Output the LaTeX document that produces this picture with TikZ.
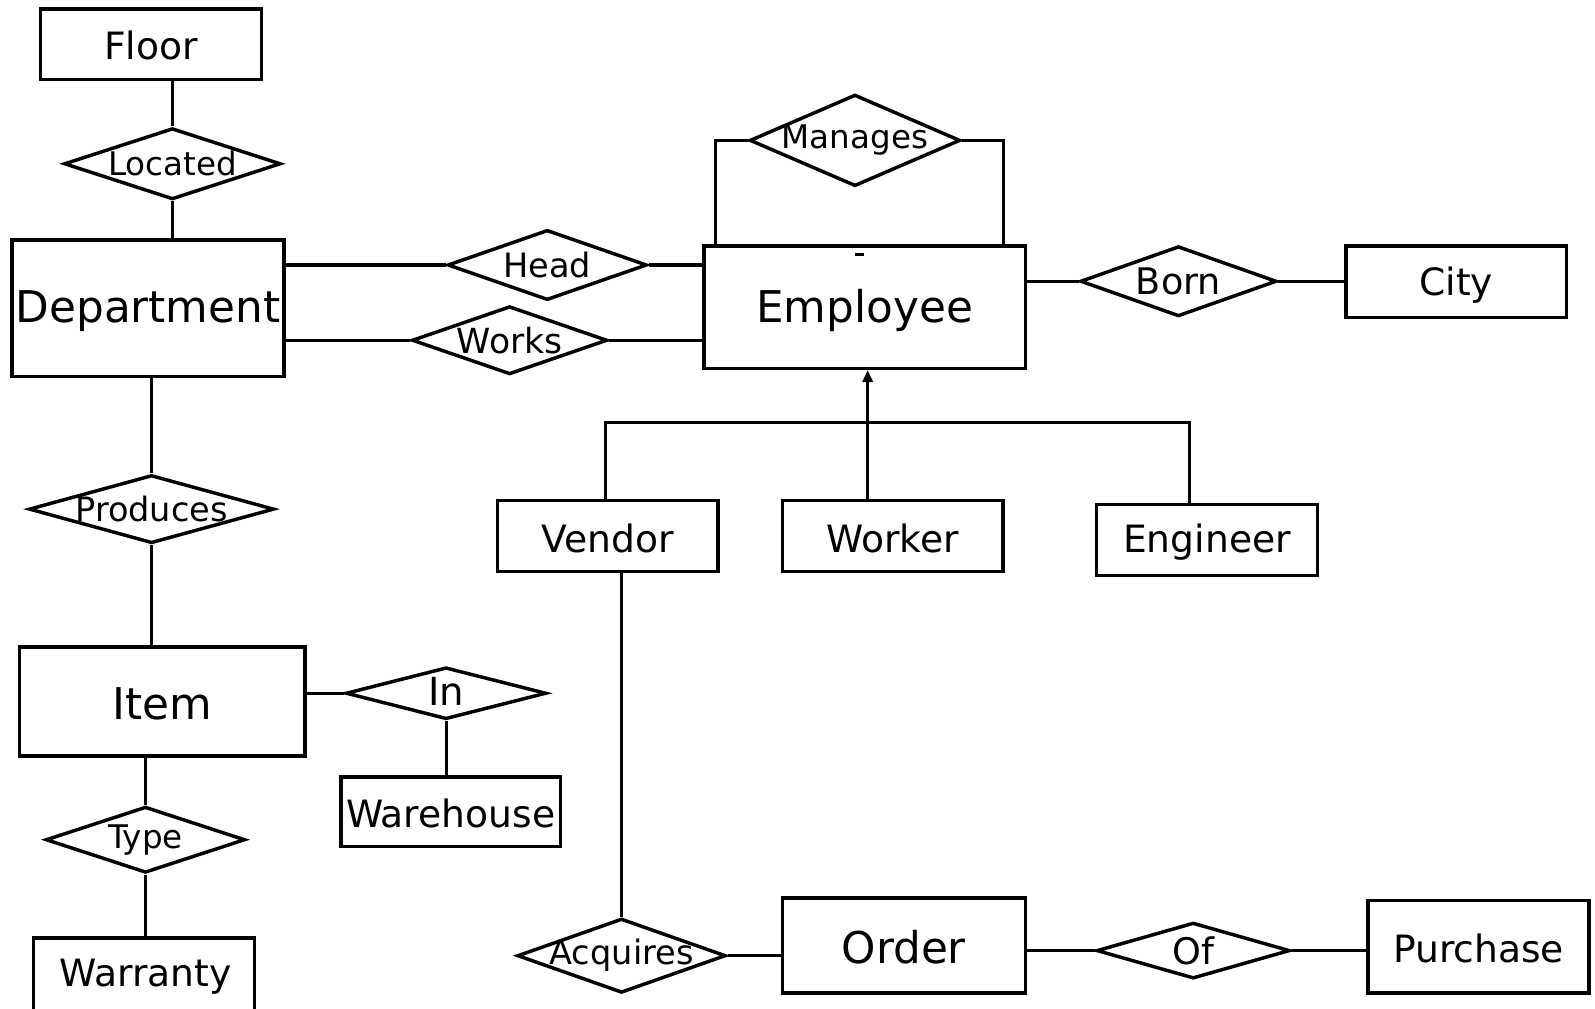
\documentclass[tikz,border=0pt]{standalone}
\usepackage{fontspec}
\setmainfont{DejaVu Sans}
\usetikzlibrary{shapes.geometric,arrows.meta}
\begin{document}
\begin{tikzpicture}[x=1pt,y=-1pt,
  entity/.style={draw,line width=3.4pt,rectangle,inner sep=0pt},
  rel/.style={draw,line width=3.4pt,diamond,inner sep=0pt},
  link/.style={line width=3pt},
  bigtxt/.style={font=\fontsize{43}{50}\selectfont},
  midtxt/.style={font=\fontsize{37}{44}\selectfont},
  reltxt/.style={font=\fontsize{#1}{#1}\selectfont,inner sep=0pt},
]
\fill[white] (0,0) rectangle (1568,991);
\useasboundingbox (0,0) rectangle (1568,991);

% ---------- entities ----------
\node[entity,minimum width=217pt,minimum height=69pt] (floor) at (148.5,43.5) {};
\node[entity,minimum width=267pt,minimum height=134pt] (dept) at (145.5,303) {};
\node[entity,minimum width=316pt,minimum height=120pt] (emp) at (850,302) {};
\node[entity,minimum width=217pt,minimum height=70pt] (city) at (1431.5,277) {};
\node[entity,minimum width=217pt,minimum height=70pt] (vendor) at (597.5,527) {};
\node[entity,minimum width=217pt,minimum height=70pt] (worker) at (877.5,527) {};
\node[entity,minimum width=217pt,minimum height=70pt] (engineer) at (1186.5,531) {};
\node[entity,minimum width=281pt,minimum height=107pt] (item) at (159.5,689.5) {};
\node[entity,minimum width=216pt,minimum height=68pt] (wh) at (443,798) {};
\node[entity,minimum width=217pt,minimum height=80pt] (warranty) at (141.5,962) {};
\node[entity,minimum width=239pt,minimum height=93pt] (order) at (888.5,929.5) {};
\node[entity,minimum width=217pt,minimum height=91pt] (purchase) at (1453.5,930.5) {};

% entity names
\node[midtxt] (floort) at (148.5,45) {Floor};
\node[bigtxt] (deptt) at (145.5,306) {Department};
\node[bigtxt] (empt) at (850,305) {Employee};
\node[midtxt] (cityt) at (1431.5,280) {City};
\node[midtxt] (vendort) at (597.5,529) {Vendor};
\node[midtxt] (workert) at (877.5,529) {Worker};
\node[midtxt] (engineert) at (1186.5,533) {Engineer};
\node[bigtxt] (itemt) at (159.5,692) {Item};
\node[midtxt] (wht) at (443,800) {Warehouse};
\node[midtxt] (warrantyt) at (143,960) {Warranty};
\node[bigtxt] (ordert) at (888.5,931) {Order};
\node[midtxt] (purchaset) at (1453.5,932) {Purchase};

% ---------- relationships ----------
\node[rel,minimum width=213pt,minimum height=70pt] (located) at (169.5,161) {};
\node[reltxt=32] (locatedt) at (located) {Located};
\node[rel,minimum width=196pt,minimum height=69pt] (head) at (538,260.5) {};
\node[reltxt=33] (headt) at (head) {Head};
\node[rel,minimum width=192pt,minimum height=67pt] (works) at (501,334.5) {};
\node[reltxt=34] (workst) at (works) {Works};
\node[rel,minimum width=207pt,minimum height=90pt] (manages) at (840.5,138) {};
\node[reltxt=32] (managest) at (manages) {Manages};
\node[rel,minimum width=193pt,minimum height=69pt] (born) at (1158.5,276.5) {};
\node[reltxt=36] (bornt) at (born) {Born};
\node[rel,minimum width=241pt,minimum height=67pt] (prod) at (149,500.5) {};
\node[reltxt=33] (prodt) at (prod) {Produces};
\node[rel,minimum width=197pt,minimum height=51pt] (in) at (438.5,681.5) {};
\node[reltxt=38] (int) at ([yshift=2pt]in) {In};
\node[rel,minimum width=196pt,minimum height=65pt] (type) at (143,825.5) {};
\node[reltxt=32] (typet) at (type) {Type};
\node[rel,minimum width=205pt,minimum height=73pt] (acq) at (611,939.5) {};
\node[reltxt=33] (acqt) at (acq) {Acquires};
\node[rel,minimum width=190pt,minimum height=55pt] (of) at (1173,934.5) {};
\node[reltxt=36] (oft) at (of) {Of};

% ---------- connectors ----------
\draw[link] (located.north) -- (located.north |- floor.south);
\draw[link] (located.south) -- (located.south |- dept.north);
\draw[link] (head.west) -- (head.west -| dept.east);
\draw[link] (head.east) -- (head.east -| emp.west);
\draw[link] (works.west) -- (works.west -| dept.east);
\draw[link] (works.east) -- (works.east -| emp.west);
\draw[link] (manages.west) -| ([xshift=13pt]emp.north west);
\draw[link] (manages.east) -| ([xshift=-23pt]emp.north east);
\draw[link] (born.west) -- (born.west -| emp.east);
\draw[link] (born.east) -- (born.east -| city.west);
\draw[link] (prod.north) -- (prod.north |- dept.south);
\draw[link] (prod.south) -- (prod.south |- item.north);
\draw[link] (in.west) -- (in.west -| item.east);
\draw[link] (in.south) -- (in.south |- wh.north);
\draw[link] (type.north) -- (type.north |- item.south);
\draw[link] (type.south) -- (type.south |- warranty.north);
\draw[link] (acq.north) -- (acq.north |- vendor.south);
\draw[link] (acq.east) -- (acq.east -| order.west);
\draw[link] (of.west) -- (of.west -| order.east);
\draw[link] (of.east) -- (of.east -| purchase.west);

% generalisation of Employee
\coordinate (isa) at (853,415);
\coordinate (isaL) at (595,415);
\coordinate (isaR) at (1169,415);
\draw[link,-{Triangle[length=12pt,width=10pt]}] (isa |- worker.north) -- (isa |- emp.south);
\draw[link] (isaL |- vendor.north) -- (isaL) -- (isaR) -- (isaR |- engineer.north);

% small tick inside Employee
\draw[line width=2.5pt] ([xshift=-9pt,yshift=-10pt]emp.north) -- ++(8,0);
\end{tikzpicture}
\end{document}
